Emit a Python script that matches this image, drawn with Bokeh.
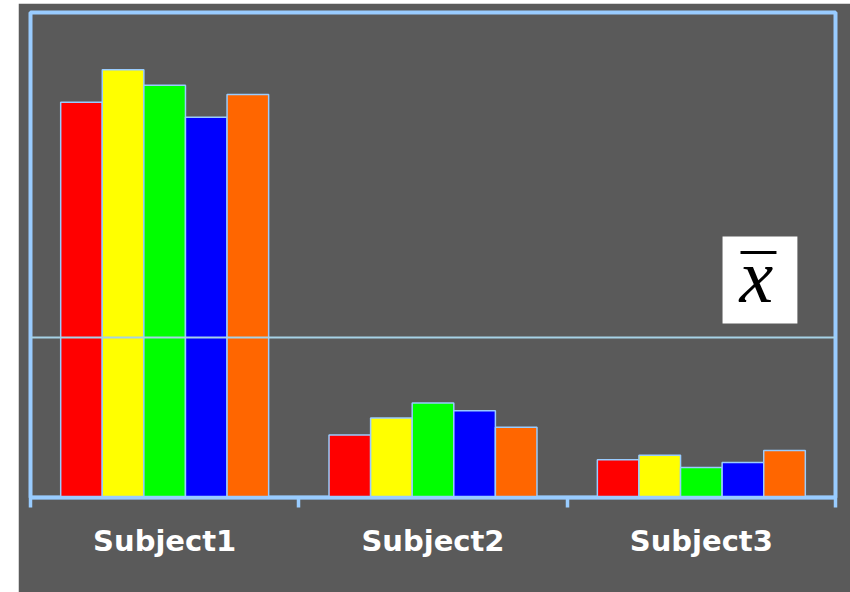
from bokeh.plotting import figure
from bokeh.models import Range1d, LinearAxis, FixedTicker, Span, ColumnDataSource, Spacer
from bokeh.layouts import row, column
from bokeh.core.properties import value
from bokeh.embed import file_html
from bokeh.resources import INLINE

categories = ["Subject1", "Subject2", "Subject3"]
red_vals = [81.5, 12.9, 7.8]
yellow_vals = [88.2, 16.4, 8.7]
green_vals = [85.0, 19.5, 6.2]
blue_vals = [78.4, 17.9, 7.2]
orange_vals = [83.1, 14.5, 9.7]
series_colors = ["#ff0000", "#ffff00", "#00ff00", "#0000ff", "#ff6600"]
mean_value = 33.0

PANEL = "#5a5a5a"
LINE = "#99ccff"

p = figure(width=832, height=589, x_range=Range1d(0, 3), y_range=Range1d(0, 100),
           output_backend="svg", toolbar_location=None,
           x_axis_location=None, y_axis_location=None,
           min_border_left=12, min_border_right=15, min_border_top=9, min_border_bottom=95,
           background_fill_color=PANEL, border_fill_color=PANEL,
           outline_line_color=LINE, outline_line_width=4)
p.grid.visible = False

bar_w = 0.155
all_series = [red_vals, yellow_vals, green_vals, blue_vals, orange_vals]
for i, (vals, col) in enumerate(zip(all_series, series_colors)):
    xs = [k + 0.5 + (i - 2) * bar_w for k in range(len(categories))]
    src = ColumnDataSource(dict(x=xs, top=vals))
    p.vbar(x="x", top="top", bottom=0, width=bar_w, source=src,
           fill_color=col, line_color=LINE, line_width=1.5)

p.add_layout(Span(location=mean_value, dimension="width", line_color="#a6d2e6", line_width=2))

# x-bar label box
p.quad(left=[2.579], right=[2.858], bottom=[35.9], top=[53.8], fill_color="white", line_color=None)
p.text(x=[2.705], y=[45.7], text=["x"], text_align="center", text_baseline="middle",
       text_font=value("Liberation Serif"), text_font_style="italic", text_font_size="76px",
       text_color="black")
p.segment(x0=[2.646], x1=[2.780], y0=[50.5], y1=[50.5], line_color="black", line_width=3)

ax = LinearAxis(ticker=FixedTicker(ticks=[0.5, 1.5, 2.5], minor_ticks=[0, 1, 2, 3]),
                major_label_overrides={0.5: categories[0], 1.5: categories[1], 2.5: categories[2]},
                axis_line_color=LINE, axis_line_width=3.5,
                major_tick_line_color=None, major_tick_in=0, major_tick_out=0,
                minor_tick_line_color=LINE, minor_tick_line_width=3.5, minor_tick_in=0, minor_tick_out=10,
                major_label_text_color="white", major_label_text_font="DejaVu Sans",
                major_label_text_font_style="bold", major_label_text_font_size="29px",
                major_label_standoff=16)
p.add_layout(ax, "below")

layout = column(Spacer(width=850, height=3), row(Spacer(width=18, height=589), p))

html = file_html(layout, INLINE)
html = html.replace("<body>", '<body style="background-color:#dff1f6;">', 1)
open("out.html", "w").write(html)
